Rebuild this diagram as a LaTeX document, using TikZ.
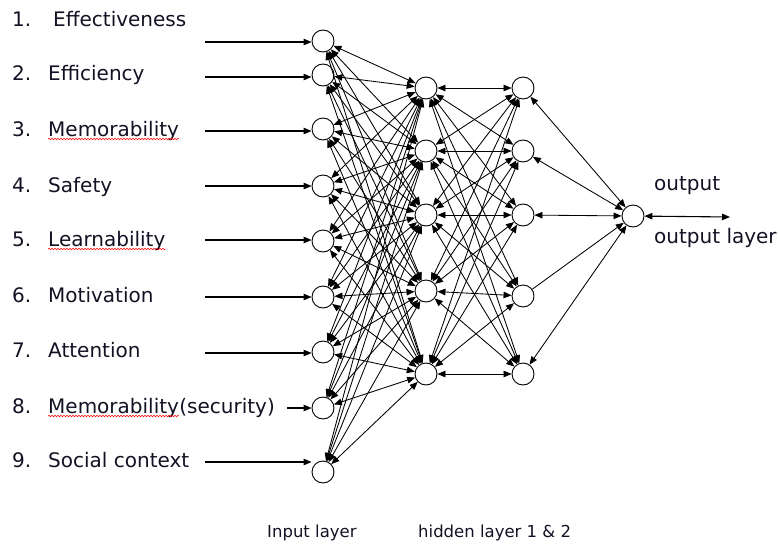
\documentclass[tikz,border=0pt]{standalone}
\usepackage{fontspec}
\setmainfont{DejaVu Sans}
\usetikzlibrary{arrows.meta,decorations.pathmorphing}
\definecolor{txt}{RGB}{18,18,36}
\begin{document}
\begin{tikzpicture}[x=1pt,y=-1pt,
  neuron/.style={circle,draw,line width=0.9pt,minimum size=22pt,inner sep=0pt,fill=white},
  lbl/.style={anchor=base west,inner sep=0pt,font=\fontsize{20}{24}\selectfont,text=txt},
  small/.style={anchor=base west,inner sep=0pt,font=\fontsize{16.5}{20}\selectfont,text=txt},
  inarrow/.style={-{Triangle[length=8pt,width=6.5pt]},line width=1.1pt},
  link/.style={{Triangle[length=8pt,width=6.5pt]}-{Triangle[length=8pt,width=6.5pt]},line width=0.85pt},
  onelink/.style={-{Triangle[length=8pt,width=6.5pt]},line width=0.85pt},
  spell/.style={red,line width=0.5pt,decorate,decoration={snake,segment length=3pt,amplitude=0.8pt}}]
\useasboundingbox (0,0) rectangle (778,546);

% input layer
\foreach \i/\y in {1/41,2/75,3/129,4/186,5/241,6/297,7/352,8/408,9/472}
  \node[neuron] (i\i) at (323,\y) {};
% hidden layer 1
\foreach \j/\y in {1/88,2/151,3/215,4/291,5/374}
  \node[neuron] (h\j) at (426,\y) {};
% hidden layer 2
\foreach \j/\y in {1/88,2/151,3/215,4/296,5/374}
  \node[neuron] (g\j) at (523,\y) {};
% output
\node[neuron] (o) at (633,216) {};

% links input -> hidden 1
\foreach \i in {1,...,9}
  \foreach \j in {1,...,5}
    \draw[link] (i\i) -- (h\j);
% links hidden 1 -> hidden 2
\foreach \i in {1,...,5}
  \foreach \j in {1,...,5}
    \draw[link] (h\i) -- (g\j);
% links hidden 2 -> output
\foreach \j in {1,2,3,5}
  \draw[link] (o) -- (g\j);
\draw[onelink] (g4) -- (o);

% output arrow
\coordinate (oe) at (730,217);
\draw[link,line width=1.1pt] (o) -- (oe);

% input arrows
\foreach \i/\x/\y in {1/205/42,2/205/77,3/205/131,4/205/186,5/205/240,6/205/297,7/205/353,8/287/408,9/205/462}{
  \coordinate (a\i) at (\x,\y);
  \draw[inarrow] (a\i) -- (a\i -| i\i.west);
}

% labels
\node[lbl] (n1) at (12,26) {1.};
\node[lbl] (w1) at (53,26) {Effectiveness};
\node[lbl] (n2) at (12,80) {2.};
\node[lbl] (w2) at (48,80) {Efficiency};
\node[lbl] (n3) at (12,136) {3.};
\node[lbl] (w3) at (48,136) {Memorability};
\node[lbl] (n4) at (12,192) {4.};
\node[lbl] (w4) at (48,192) {Safety};
\node[lbl] (n5) at (12,246) {5.};
\node[lbl] (w5) at (48,246) {Learnability};
\node[lbl] (n6) at (12,302) {6.};
\node[lbl] (w6) at (48,302) {Motivation};
\node[lbl] (n7) at (12,357) {7.};
\node[lbl] (w7) at (48,357) {Attention};
\node[lbl] (n8) at (12,413) {8.};
\node[lbl] (w8) at (48,413) {Memorability};
\node[lbl] (w8b) at (w8.base east) {(security)};
\node[lbl] (n9) at (12,467) {9.};
\node[lbl] (w9) at (48,467) {Social context};

\draw[spell] ([yshift=-3pt]w3.base west) -- ([yshift=-3pt]w3.base east);
\draw[spell] ([yshift=-3pt]w5.base west) -- ([yshift=-3pt]w5.base east);
\draw[spell] ([yshift=-3pt]w8.base west) -- ([yshift=-3pt]w8.base east);

\node[lbl] (out1) at (654,190) {output};
\node[lbl] (out2) at (654,243) {output layer};

\node[small] (b1) at (267,537) {Input layer};
\node[small] (b2) at (418,537) {hidden layer 1 \& 2};
\end{tikzpicture}
\end{document}
